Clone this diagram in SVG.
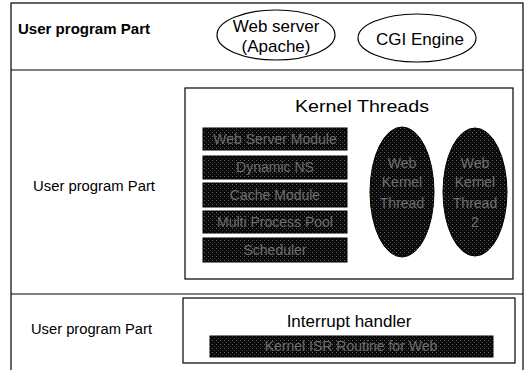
<svg xmlns="http://www.w3.org/2000/svg" width="530" height="370" viewBox="0 0 530 370">
  <style>
    .frame { fill: none; stroke: #000; stroke-width: 1.2; }
    .box { fill: #fff; stroke: #000; stroke-width: 1.2; }
    .label { font-family: "Liberation Sans", Arial, sans-serif; font-size: 14px; fill: #000; }
    .title { font-family: "Liberation Sans", Arial, sans-serif; font-size: 17px; fill: #000; text-anchor: middle; }
    .dark { fill: url(#grain); stroke: #000; stroke-width: 1; }
    .darktext { font-family: "Liberation Sans", Arial, sans-serif; font-size: 14px; fill: #6e6e6e; text-anchor: middle; }
  </style>
  <defs>
    <!-- speckled dark fill for the module blocks -->
    <pattern id="grain" width="4" height="4" patternUnits="userSpaceOnUse">
      <rect width="4" height="4" fill="#0a0a0a"/>
      <rect x="0" y="0" width="1" height="1" fill="#666"/>
      <rect x="2" y="2" width="1" height="1" fill="#444"/>
    </pattern>
  </defs>

  <!-- outer frame and layer dividers -->
  <g id="layers">
    <rect class="frame" x="11" y="3" width="512" height="370"/>
    <line class="frame" x1="11" y1="70" x2="523" y2="70"/>
    <line class="frame" x1="11" y1="294" x2="523" y2="294"/>
  </g>

  <!-- top layer -->
  <g id="user-part-1">
    <text class="label" x="18" y="34" font-weight="bold" textLength="132" lengthAdjust="spacingAndGlyphs">User program Part</text>
  </g>
  <g id="web-server">
    <ellipse class="box" cx="276" cy="35" rx="59" ry="25"/>
    <text class="title" x="276" y="32">Web server</text>
    <text class="title" x="276" y="52">(Apache)</text>
  </g>
  <g id="cgi-engine">
    <ellipse class="box" cx="417" cy="38" rx="59" ry="24"/>
    <text class="title" x="420" y="45">CGI Engine</text>
  </g>

  <!-- middle layer -->
  <g id="user-part-2">
    <text class="label" x="33" y="191" textLength="122" lengthAdjust="spacingAndGlyphs">User program Part</text>
  </g>
  <g id="kernel-threads">
    <rect class="box" x="185" y="88" width="328" height="191"/>
    <text class="title" x="362" y="112" font-size="19" textLength="134" lengthAdjust="spacingAndGlyphs">Kernel Threads</text>
  </g>
  <g id="web-server-module">
    <rect class="dark" x="203" y="128" width="144" height="22"/>
    <text class="darktext" x="275" y="144">Web Server Module</text>
  </g>
  <g id="dynamic-module">
    <rect class="dark" x="203" y="156" width="144" height="23"/>
    <text class="darktext" x="275" y="172">Dynamic NS</text>
  </g>
  <g id="cache-module">
    <rect class="dark" x="203" y="183" width="144" height="24"/>
    <text class="darktext" x="275" y="200">Cache Module</text>
  </g>
  <g id="multiprocess-module">
    <rect class="dark" x="203" y="211" width="144" height="22"/>
    <text class="darktext" x="275" y="227">Multi Process Pool</text>
  </g>
  <g id="scheduler">
    <rect class="dark" x="203" y="238" width="144" height="24"/>
    <text class="darktext" x="275" y="255">Scheduler</text>
  </g>
  <g id="web-kernel-thread">
    <ellipse class="dark" cx="402" cy="192" rx="32" ry="65"/>
    <text class="darktext" x="402" y="168">Web</text>
    <text class="darktext" x="402" y="187">Kernel</text>
    <text class="darktext" x="402" y="208">Thread</text>
  </g>
  <g id="web-kernel-thread-2">
    <ellipse class="dark" cx="475" cy="192" rx="32" ry="64"/>
    <text class="darktext" x="475" y="168">Web</text>
    <text class="darktext" x="475" y="187">Kernel</text>
    <text class="darktext" x="475" y="208">Thread</text>
    <text class="darktext" x="475" y="227">2</text>
  </g>

  <!-- bottom layer -->
  <g id="user-part-3">
    <text class="label" x="31" y="334" textLength="121" lengthAdjust="spacingAndGlyphs">User program Part</text>
  </g>
  <g id="interrupt-handler">
    <rect class="box" x="183" y="298" width="332" height="65"/>
    <text class="title" x="349" y="327">Interrupt handler</text>
    <rect class="dark" x="210" y="336" width="283" height="21"/>
    <text class="darktext" x="351" y="351">Kernel ISR Routine for Web</text>
  </g>
</svg>
